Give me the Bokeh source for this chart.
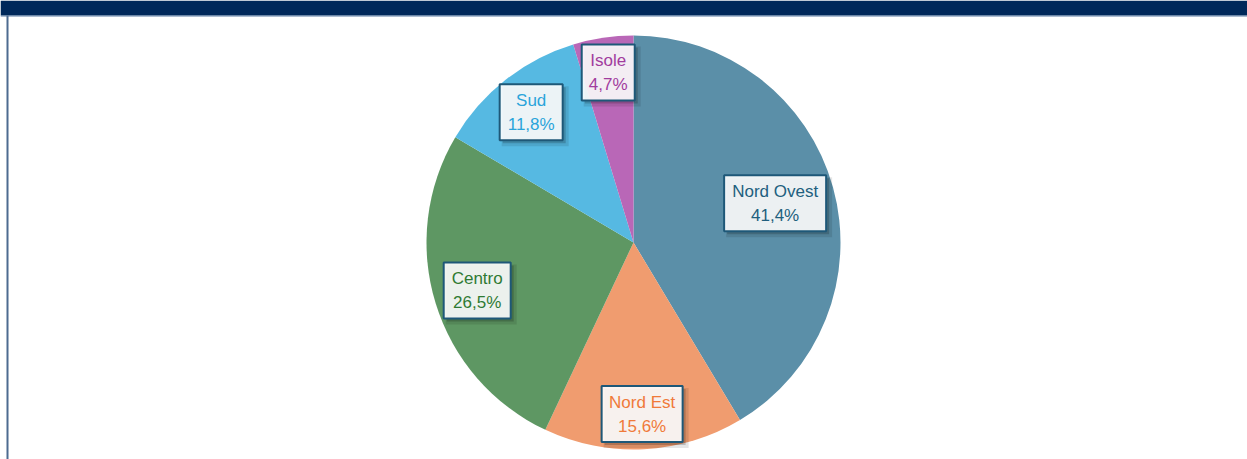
import math
from bokeh.plotting import figure
from bokeh.models import Range1d
from bokeh.core.properties import value
from bokeh.embed import file_html
from bokeh.resources import INLINE

# ---- data ----
regions = ["Nord Ovest", "Nord Est", "Centro", "Sud", "Isole"]
shares = [41.4, 15.6, 26.5, 11.8, 4.7]

# ---- styles ----
slice_colors = ["#5B8FA8", "#F09C6F", "#5E9763", "#56B9E2", "#B967B7"]
text_colors = ["#215F7E", "#F07A3A", "#2F7A33", "#2AA4DA", "#A13C9E"]
label_radius_frac = [0.71, 0.83, 0.79, 0.80, 0.83]
box_widths = [102, 81, 67, 63, 53]
box_height = 56

W, H = 1247, 459
cx, cy, R = 633, 217, 207

p = figure(width=W, height=H, output_backend="svg", toolbar_location=None,
           x_range=Range1d(0, W), y_range=Range1d(0, H),
           min_border=0, outline_line_color=None)
p.axis.visible = False
p.grid.visible = False
p.background_fill_color = "white"
p.border_fill_color = "white"

# header bar and frame
p.quad(left=0, right=W, bottom=444, top=H, fill_color="#00285A", line_color=None)
p.segment(x0=0, y0=443.5, x1=W, y1=443.5, line_color="#5A7BA3", line_width=1)
p.segment(x0=7, y0=0, x1=7, y1=444, line_color="#4D6B90", line_width=2)

# pie wedges
total = sum(shares)
starts, ends, mids = [], [], []
cum = 0.0
for s in shares:
    a0 = math.pi / 2 - 2 * math.pi * cum / total
    a1 = math.pi / 2 - 2 * math.pi * (cum + s) / total
    starts.append(a0)
    ends.append(a1)
    mids.append((a0 + a1) / 2)
    cum += s

p.wedge(x=cx, y=cy, radius=R, start_angle=starts, end_angle=ends,
        direction="clock", fill_color=slice_colors, line_color=None)

# labels
lx = [cx + f * R * math.cos(m) for f, m in zip(label_radius_frac, mids)]
ly = [cy + f * R * math.sin(m) for f, m in zip(label_radius_frac, mids)]

# shadow
p.rect(x=[x + 4 for x in lx], y=[y - 4 for y in ly], width=[w + 4 for w in box_widths],
       height=box_height + 4, fill_color="#000000", fill_alpha=0.10, line_color=None)
p.rect(x=[x + 3 for x in lx], y=[y - 3 for y in ly], width=box_widths,
       height=box_height, fill_color="#000000", fill_alpha=0.18, line_color=None)
# box
p.rect(x=lx, y=ly, width=box_widths, height=box_height, fill_color="white",
       fill_alpha=0.9, line_color="#1E5878", line_width=2)

pct_text = [("%.1f" % s).replace(".", ",") + "%" for s in shares]
p.text(x=lx, y=[y + 12 for y in ly], text=regions, text_color=text_colors,
       text_align="center", text_baseline="middle",
       text_font=value("Liberation Sans"), text_font_size="17px")
p.text(x=lx, y=[y - 12 for y in ly], text=pct_text, text_color=text_colors,
       text_align="center", text_baseline="middle",
       text_font=value("Liberation Sans"), text_font_size="17px")

open("out.html", "w").write(file_html(p, INLINE))
